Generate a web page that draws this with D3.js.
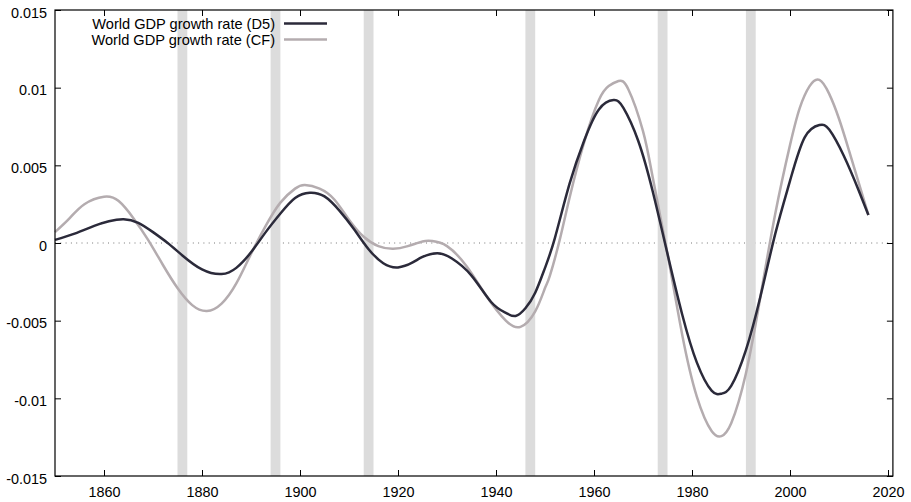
<!DOCTYPE html>
<html>
<head>
<meta charset="utf-8">
<script src="https://cdn.jsdelivr.net/npm/d3@7"></script>
<style>
    html, body { margin: 0; padding: 0; background: #fff; }
    svg { display: block; font-family: "Liberation Sans", Arial, Helvetica, sans-serif; }
</style>
</head>
<body>
<div id="chart"></div>
<script>
var yearsD5 = [1850, 1854, 1858, 1861, 1864, 1867, 1870, 1873, 1876, 1880, 1884, 1887, 1890, 1893, 1896, 1899, 1902,
    1905, 1908, 1911, 1914, 1917, 1920, 1923, 1925, 1928, 1931, 1935, 1939, 1942, 1944, 1946, 1948, 1950, 1952, 1955,
    1958, 1961, 1964, 1966, 1969, 1972, 1975, 1978, 1981, 1984, 1986, 1988, 1991, 1994, 1997, 2000, 2003, 2006, 2008,
    2011, 2014, 2016];
var valuesD5 = [0.0002, 0.0006, 0.0011, 0.0014, 0.00153, 0.0013, 0.0007, 0.0000, -0.0008, -0.0017, -0.0020, -0.0016,
    -0.0006, 0.0007, 0.0019, 0.0029, 0.00324,
    0.0030, 0.0021, 0.0009, -0.0004, -0.0013, -0.00157, -0.00125, -0.0009, -0.00066, -0.0010, -0.0021, -0.0038,
    -0.0045, -0.0047, -0.0042, -0.0032, -0.0016, 0.0003, 0.0038,
    0.0066, 0.0086, 0.0092, 0.0087, 0.0066, 0.0033, -0.0007, -0.0046, -0.0077, -0.0095, -0.0097, -0.0092, -0.0069,
    -0.0034, 0.0006, 0.0040, 0.0068, 0.0076, 0.0073,
    0.0056, 0.0034, 0.0018];

var yearsCF = [1850, 1853, 1856, 1860, 1863, 1866, 1869, 1872, 1875, 1878, 1881, 1884, 1887, 1890, 1893, 1896, 1899,
    1901, 1904, 1907, 1910, 1913, 1916, 1919, 1922, 1925, 1927, 1930, 1934, 1938, 1942, 1945, 1948, 1950, 1951, 1953,
    1955, 1958, 1961, 1963, 1965, 1967, 1970, 1972, 1975, 1978, 1981, 1984, 1986, 1988, 1991, 1994, 1997, 2000, 2002,
    2004, 2006, 2008, 2010, 2012, 2014, 2016];
var valuesCF = [0.0007, 0.0016, 0.0025, 0.00298, 0.0027, 0.0016, 0.0002, -0.0014, -0.0029, -0.0040, -0.00438, -0.0039,
    -0.0026, -0.0007, 0.0011, 0.0026, 0.0035,
    0.00373, 0.0035, 0.0028, 0.0015, 0.0004, -0.0002, -0.00037, -0.0002, 0.0001, 0.00013, -0.0002, -0.0015, -0.0034,
    -0.0050, -0.0054, -0.0044, -0.0029, -0.0021, 0.0002,
    0.0029, 0.0065, 0.0092, 0.0101, 0.01043, 0.0099, 0.0072, 0.0042, -0.0007, -0.0059, -0.0099, -0.0121, -0.01243,
    -0.0116, -0.0084, -0.0034, 0.0019, 0.0063, 0.0087,
    0.0101, 0.0105, 0.0096, 0.0080, 0.0060, 0.0039, 0.0018];

// Shaded periods
var bandStarts = [1875, 1894, 1913, 1946, 1973, 1991];
var bandEnds = [1877, 1896, 1915, 1948, 1975, 1993];

// Axis ticks and legend
var xTicks = [1860, 1880, 1900, 1920, 1940, 1960, 1980, 2000, 2020];
var yTicks = [-0.015, -0.01, -0.005, 0, 0.005, 0.01, 0.015];
var yTickLabels = ["-0.015", "-0.01", "-0.005", "0", "0.005", "0.01", "0.015"];
var seriesNames = ["World GDP growth rate (D5)", "World GDP growth rate (CF)"];
var seriesColors = ["#2b2a3a", "#b4acaf"];

var width = 911;
var height = 502;
var plotLeft = 55, plotRight = 892.9, plotTop = 10, plotBottom = 476;

var svg = d3.select("#chart").append("svg")
    .attr("width", width)
    .attr("height", height);

var x = d3.scaleLinear().domain([1850, 2021]).range([plotLeft, plotRight]);
var y = d3.scaleLinear().domain([-0.015, 0.015]).range([plotBottom, plotTop]);

//Zero line (dotted)
svg.append("line")
    .attr("x1", plotLeft).attr("x2", plotRight)
    .attr("y1", y(0)).attr("y2", y(0))
    .attr("stroke", "#777")
    .attr("stroke-width", 1)
    .attr("stroke-dasharray", "1,4.3");

//Gray bands
svg.selectAll("rect.band")
    .data(bandStarts)
    .enter().append("rect")
    .attr("class", "band")
    .attr("x", function (d) { return x(d); })
    .attr("width", function (d, i) { return x(bandEnds[i]) - x(d); })
    .attr("y", plotTop)
    .attr("height", plotBottom - plotTop)
    .attr("fill", "#dcdcdc");

//Axes, ticks inward on all four sides
var xAxisBottom = d3.axisBottom(x).tickValues(xTicks).tickSize(-6).tickFormat(d3.format("d")).tickPadding(11);
var xAxisTop = d3.axisTop(x).tickValues(xTicks).tickSize(-6).tickFormat("");
var yAxisLeft = d3.axisLeft(y).tickValues(yTicks).tickSize(-6)
    .tickFormat(function (d, i) { return yTickLabels[i]; }).tickPadding(8);
var yAxisRight = d3.axisRight(y).tickValues(yTicks).tickSize(-6).tickFormat("");

function styleAxis(g) {
    g.select(".domain").remove();
    g.selectAll(".tick line").attr("stroke", "#000").attr("stroke-width", 1);
    g.selectAll(".tick text").attr("fill", "#000").style("font-size", "14.4px").style("font-family", "Liberation Sans, Arial, sans-serif");
}

svg.append("g").attr("transform", "translate(0," + plotBottom + ")").call(xAxisBottom).call(styleAxis);
svg.append("g").attr("transform", "translate(0," + plotTop + ")").call(xAxisTop).call(styleAxis);
svg.append("g").attr("transform", "translate(" + plotLeft + ",0)").call(yAxisLeft).call(styleAxis)
    .selectAll(".tick text").attr("dy", "0.5em");
svg.append("g").attr("transform", "translate(" + plotRight + ",0)").call(yAxisRight).call(styleAxis);

//Curves
var line = d3.line()
    .x(function (d) { return x(d[0]); })
    .y(function (d) { return y(d[1]); })
    .curve(d3.curveNatural);

var series = [
    d3.zip(yearsCF, valuesCF),
    d3.zip(yearsD5, valuesD5)
];
var order = [1, 0];

svg.selectAll("path.series")
    .data(series)
    .enter().append("path")
    .attr("class", "series")
    .attr("fill", "none")
    .attr("stroke", function (d, i) { return seriesColors[order[i]]; })
    .attr("stroke-width", 2.5)
    .attr("stroke-linejoin", "round")
    .attr("d", line);

//Frame
svg.append("rect")
    .attr("x", plotLeft).attr("y", plotTop)
    .attr("width", plotRight - plotLeft).attr("height", plotBottom - plotTop)
    .attr("fill", "none")
    .attr("stroke", "#000")
    .attr("stroke-width", 1.2);

//Legend
var legend = svg.selectAll("g.legend")
    .data(seriesNames)
    .enter().append("g")
    .attr("class", "legend")
    .attr("transform", function (d, i) { return "translate(0," + (23.5 + i * 16) + ")"; });

legend.append("text")
    .attr("x", 275)
    .attr("dy", "0.35em")
    .attr("text-anchor", "end")
    .style("font-size", "14.6px")
    .text(function (d) { return d; });

legend.append("line")
    .attr("x1", 284).attr("x2", 327)
    .attr("stroke", function (d, i) { return seriesColors[i]; })
    .attr("stroke-width", 2.5);
</script>
</body>
</html>
